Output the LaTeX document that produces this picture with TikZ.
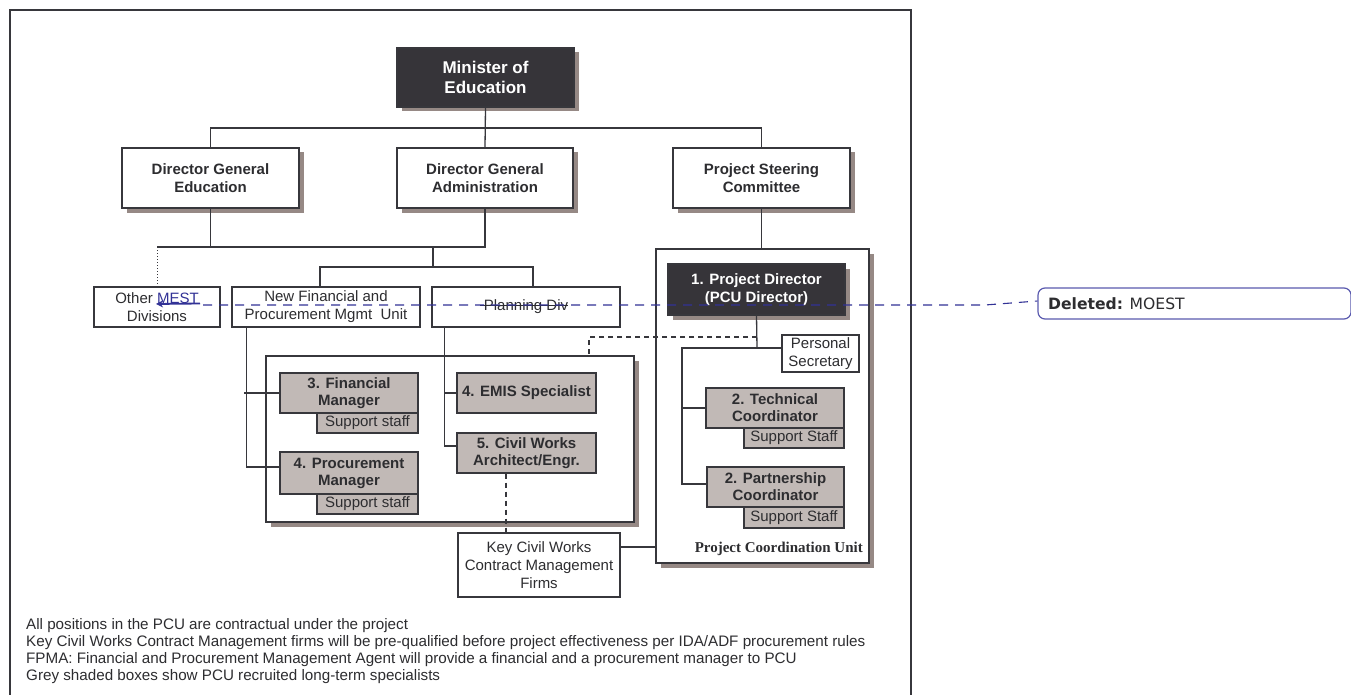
\documentclass[tikz,border=0pt]{standalone}
\usepackage{fontspec}
\setmainfont{Liberation Sans}
\newfontfamily\serifbf{Liberation Serif}
\newfontfamily\dvsans{DejaVu Sans}
\usetikzlibrary{shadows,arrows.meta}
\definecolor{linec}{RGB}{55,55,60}
\definecolor{textc}{RGB}{45,45,48}
\definecolor{darkfill}{RGB}{54,52,57}
\definecolor{shadowc}{RGB}{150,137,133}
\definecolor{greyfill}{RGB}{193,185,182}
\definecolor{bluec}{RGB}{50,50,150}
\definecolor{commentc}{RGB}{90,90,175}
\newcommand{\fs}[2]{\fontsize{#1}{#2}\selectfont}
\newcommand{\uptext}[1]{\raisebox{3pt}{\parbox{170pt}{\centering\bfseries\fs{15}{18}#1}}}
\begin{document}
\begin{tikzpicture}[x=1pt,y=-1pt,
  box/.style={draw=linec, line width=1.3pt, inner sep=0pt, align=center, text=textc, fill=white, font=\fs{15}{18}},
  sh/.style={drop shadow={shadow xshift=4.5pt, shadow yshift=-4.5pt, fill=shadowc, opacity=1}},
  darkbox/.style={box, fill=darkfill, text=white, font=\bfseries\fs{15}{18}},
  staffbox/.style={box, fill=greyfill, font=\bfseries\fs{15}{17}},
  supbox/.style={box, fill=greyfill, font=\fs{15}{17}},
  plainbox/.style={box, font=\fs{15}{18}},
  conn/.style={draw=linec, line width=1.3pt},
  blk dash/.style={conn, dash pattern=on 5pt off 4pt},
  blue dash/.style={draw=bluec, line width=1.1pt, dash pattern=on 9pt off 7pt},
  notetext/.style={anchor=base west, inner sep=0pt, text=textc, font=\fs{15.2}{17}}]
\useasboundingbox (0,0) rectangle (1351,695);
\fill[white] (0,0) rectangle (1351,695);
% frame
\draw[conn] (10,697) -- (10,10) -- (911,10) -- (911,697);

% top level
\node[darkbox, sh, font=\bfseries\fs{17}{20}, minimum width=177pt, minimum height=59pt] (minister) at (485.5,77.5) {Minister of\\Education};
\node[box, sh, minimum width=177pt, minimum height=60pt] (dge) at (210.5,178) {\uptext{Director General\\Education}};
\node[box, sh, minimum width=176pt, minimum height=60pt] (dga) at (485,178) {\uptext{Director General\\Administration}};
\node[box, sh, minimum width=177pt, minimum height=60pt] (psc) at (761.5,178) {\uptext{Project Steering\\Committee}};

\coordinate (bus1) at (485,128);
\draw[conn] (minister.south) -- (dga.north);
\draw[conn] (dge.north) |- (bus1) -| (psc.north);

% second level
\node[plainbox, minimum width=126pt, minimum height=40pt] (other) at (157,307) {Other {\color{bluec}MEST}\\Divisions};
\node[plainbox, minimum width=188pt, minimum height=40pt] (nfp) at (326,307) {New Financial and\\Procurement Mgmt\ \ Unit};
\node[plainbox, minimum width=188pt, minimum height=40pt] (plan) at (526,307) {Planning Div};
\draw[draw=textc, line width=0.8pt] ([xshift=-46,yshift=2]plan.center) -- ([xshift=42,yshift=2]plan.center);

\coordinate (bus2) at (433,247);
\coordinate (bus3) at (433,267);
\draw[conn] (dge.south) -- (dge.south |- bus2);
\draw[conn] (dga.south) |- (other.north |- bus2);
\draw[draw=linec, line width=0.9pt, dash pattern=on 1pt off 2pt] (other.north |- bus2) -- (other.north);
\draw[conn] (bus2) -- (bus3);
\draw[conn] ([xshift=-6]nfp.north) |- (bus3) -| ([xshift=7]plan.north);

% PCU
\node[box, sh, minimum width=213pt, minimum height=314pt] (pcu) at (762.5,406) {};
\draw[conn] (psc.south) -- (psc.south |- pcu.north);
\node[darkbox, sh, minimum width=177pt, minimum height=51pt] (pd) at (756.5,289.5) {1. Project Director\\(PCU Director)};
\node[plainbox, minimum width=77pt, minimum height=37pt] (ps) at (820.5,353.5) {Personal\\Secretary};
\node[staffbox, minimum width=138pt, minimum height=40pt] (tc) at (775,408) {2. Technical\\Coordinator};
\node[supbox, minimum width=100pt, minimum height=20pt] (tcs) at (794,438) {Support Staff};
\node[staffbox, minimum width=137pt, minimum height=40pt] (pc) at (775.5,487) {2. Partnership\\Coordinator};
\node[supbox, minimum width=100pt, minimum height=21pt] (pcs) at (794,517.5) {Support Staff};
\node[anchor=base east, inner sep=0pt, text=textc, font=\serifbf\bfseries\fs{15}{18}] (pculbl) at (863,552) {Project Coordination Unit};

\coordinate (pdj) at (757,348);
\coordinate (dj) at (757,337);
\coordinate (vl) at (682,348);
\draw[conn] (pd.south) -- (pdj);
\draw[conn] ([yshift=5.5]ps.west) -- (vl) |- ([yshift=3]pc.west);
\draw[conn] (tc.west) -- (tc.west -| vl);

% middle unit
\node[box, sh, minimum width=368pt, minimum height=166pt] (mid) at (450,439) {};
\node[staffbox, minimum width=138pt, minimum height=40pt] (fm) at (349,393) {3. Financial\\Manager};
\node[supbox, minimum width=101pt, minimum height=20pt] (fms) at (367.5,423) {Support staff};
\node[staffbox, minimum width=138pt, minimum height=42pt] (prm) at (349,473) {4. Procurement\\Manager};
\node[supbox, minimum width=101pt, minimum height=20pt] (prms) at (367.5,504) {Support staff};
\node[staffbox, minimum width=139pt, minimum height=40pt] (emis) at (526.5,393) {4. EMIS Specialist};
\node[staffbox, minimum width=139pt, minimum height=40pt] (cw) at (526.5,453) {5. Civil Works\\Architect/Engr.};

\draw[blk dash] (dj) -| ([xshift=139]mid.north);

\coordinate (nfpdn) at ([xshift=15]nfp.south west);
\coordinate (fmstub) at (244,393);
\draw[conn] (nfpdn) |- ([yshift=6]prm.west);
\draw[conn] (fmstub) -- (fm.west);
\coordinate (plandn) at ([xshift=13]plan.south west);
\draw[conn] (plandn) |- ([yshift=7]cw.west);
\draw[conn] (emis.west) -- (emis.west -| plandn);

% key civil works
\node[plainbox, minimum width=162pt, minimum height=64pt] (kcw) at (539,565) {Key Civil Works\\Contract Management\\Firms};
\draw[blk dash] ([xshift=-20.5]cw.south) -- ([xshift=-20.5]cw.south |- kcw.north);
\draw[conn] ([yshift=18]kcw.east) -- ([yshift=18]kcw.east -| pcu.west);

% notes
\node[notetext] (n1) at (26,629) {All positions in the PCU are contractual under the project};
\node[notetext] (n2) at (26,646) {Key Civil Works Contract Management firms will be pre-qualified before project effectiveness per IDA/ADF procurement rules};
\node[notetext] (n3) at (26,663) {FPMA: Financial and Procurement Management Agent will provide a financial and a procurement manager to PCU};
\node[notetext] (n4) at (26,680) {Grey shaded boxes show PCU recruited long-term specialists};

% tracked-change comment
\node[draw=commentc, line width=1.2pt, rounded corners=7pt, minimum width=313pt, minimum height=31pt, inner sep=0pt] (comment) at (1194.5,303.5) {};
\node[anchor=west, inner sep=0pt, text=textc, font=\dvsans\fs{15.6}{18}] (ctext) at (1048,303.5) {\textbf{Deleted:} MOEST};
\coordinate (mestA) at (200,303.5);
\coordinate (mestB) at (156,304);
\coordinate (mest) at (203,305);
\draw[draw=bluec, line width=1.8pt, -{Stealth[length=7pt,width=7pt]}] (mestA) -- (mestB);
\draw[blue dash] (mest) -- (985,305) -- ([yshift=2.5]comment.west);
\end{tikzpicture}
\end{document}
